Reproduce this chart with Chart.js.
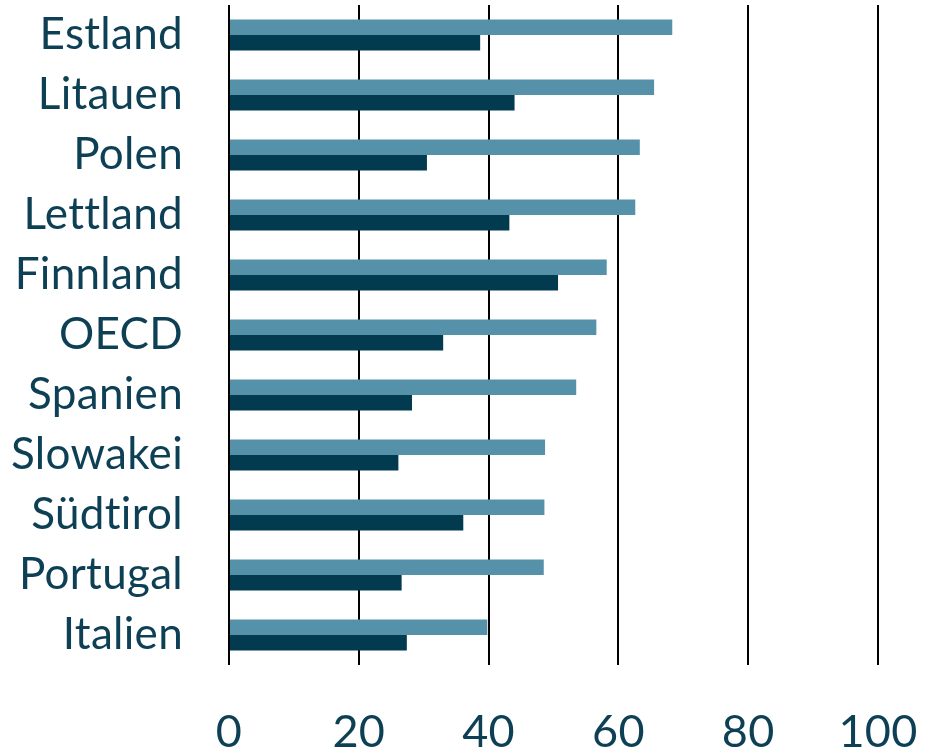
<!DOCTYPE html>
<html>
<head>
<meta charset="utf-8">
<script src="https://cdn.jsdelivr.net/npm/chart.js@4"></script>
<style>
    html, body { margin: 0; padding: 0; background: #ffffff; }
    #wrap { width: 925px; height: 754px; }
</style>
</head>
<body>
<div id="wrap"><canvas id="chart" width="925" height="754"></canvas></div>
<script>
const countries = ["Estland", "Litauen", "Polen", "Lettland", "Finnland", "OECD",
    "Spanien", "Slowakei", "Südtirol", "Portugal", "Italien"];
const seriesLight = [68.3, 65.5, 63.3, 62.6, 58.2, 56.6, 53.5, 48.7, 48.6, 48.5, 39.8];
const seriesDark = [38.7, 44.0, 30.5, 43.2, 50.7, 33.0, 28.2, 26.1, 36.1, 26.6, 27.4];
const xTicks = [0, 20, 40, 60, 80, 100];

const textColor = "#0d3f55";
const fontFamily = "Lato, 'Open Sans', sans-serif";

// small letter spacing keeps Lato from drawing "tt"/"ti" ligatures
const noLigatures = {
    id: "noLigatures",
    beforeDraw(chart) {
        chart.ctx.letterSpacing = "0.3px";
    }
};

new Chart(document.getElementById("chart").getContext("2d"), {
    type: "bar",
    data: {
        labels: countries,
        datasets: [
            {
                data: seriesLight,
                backgroundColor: "#5592aa",
                borderWidth: 0,
                categoryPercentage: 0.52,
                barPercentage: 1,
            },
            {
                data: seriesDark,
                backgroundColor: "#023a50",
                borderWidth: 0,
                categoryPercentage: 0.52,
                barPercentage: 1,
            }
        ]
    },
    plugins: [noLigatures],
    options: {
        indexAxis: "y",
        responsive: false,
        animation: false,
        layout: { padding: { top: 5, right: 47, left: 0, bottom: 0 } },
        plugins: {
            legend: { display: false },
            tooltip: { enabled: false }
        },
        scales: {
            x: {
                min: 0,
                max: 100,
                afterBuildTicks: (scale) => {
                    scale.ticks = xTicks.map(v => ({ value: v }));
                },
                afterFit: (scale) => {
                    scale.height = 89;
                    scale.paddingLeft = 0;
                    scale.paddingRight = 0;
                },
                border: { display: false },
                grid: {
                    color: "#000000",
                    lineWidth: 2,
                    drawTicks: false
                },
                ticks: {
                    color: textColor,
                    padding: 40,
                    font: { family: fontFamily, size: 45 }
                }
            },
            y: {
                afterFit: (scale) => {
                    scale.width = 229;
                    scale.paddingTop = 0;
                    scale.paddingBottom = 0;
                },
                border: { display: false },
                grid: { display: false, drawTicks: false },
                ticks: {
                    color: textColor,
                    padding: 46,
                    font: { family: fontFamily, size: 44 }
                }
            }
        }
    }
});
</script>
</body>
</html>
